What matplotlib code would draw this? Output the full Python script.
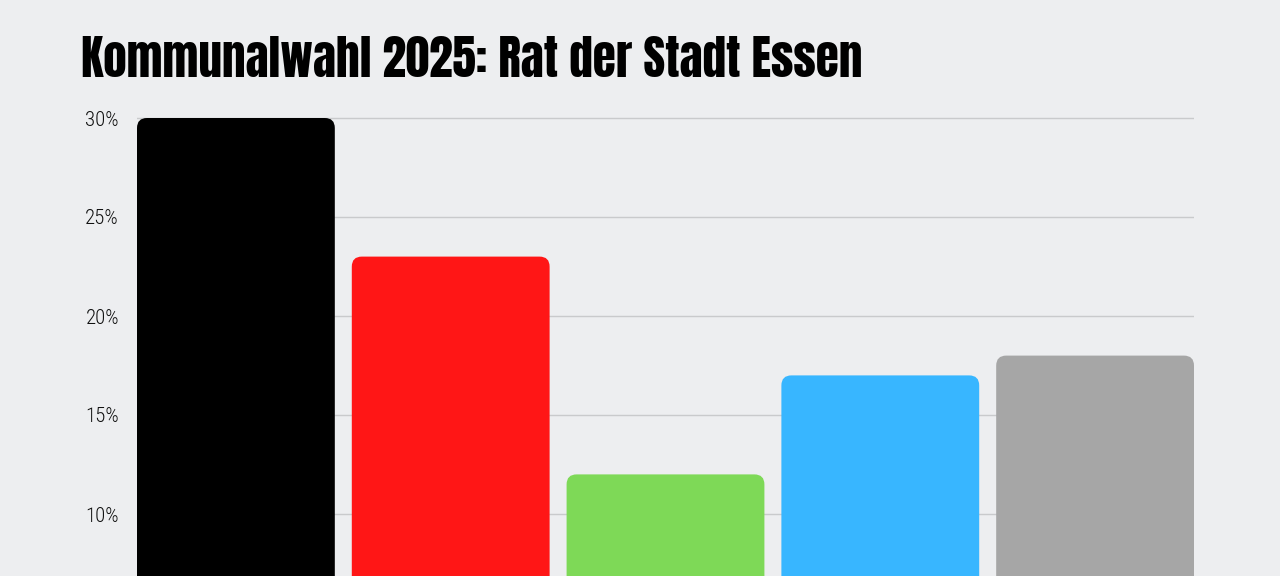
import matplotlib
matplotlib.use("Agg")
import matplotlib.pyplot as plt
from matplotlib.patches import FancyBboxPatch
from matplotlib.ticker import FuncFormatter

parteien = ["CDU", "SPD", "Grüne", "AfD", "Sonstige"]
anteile = [30, 23, 12, 17, 18]
farben = ["#000000", "#FF1616", "#7ED957", "#38B6FF", "#A6A6A6"]
y_ticks = [10, 15, 20, 25, 30]

bg = "#EDEEF0"
W, H = 1280, 576

fig = plt.figure(figsize=(W / 100, H / 100), dpi=100, facecolor=bg)

# axes placed in pixel terms; the lower part of the chart is cut off by the figure edge
left, right, top = 137, 1194, 110
px_per_pct = 19.8
ax = fig.add_axes([left / W, 0, (right - left) / W, (H - top) / H])
ax.set_facecolor(bg)

breite = 198 / 215
x = list(range(len(parteien)))
ax.set_xlim(-breite / 2, len(parteien) - 1 + breite / 2)
y_unten = 30 - (H - 118) / px_per_pct
y_oben = 30 + (118 - top) / px_per_pct
ax.set_ylim(y_unten, y_oben)

ax.set_yticks(y_ticks)
ax.yaxis.set_major_formatter(FuncFormatter(lambda v, p: f"{v:.0f}%"))
ax.grid(axis="y", color="#C9CACC", linewidth=1)
ax.set_axisbelow(True)
ax.set_xticks([])
for s in ax.spines.values():
    s.set_visible(False)
ax.tick_params(axis="y", length=0, pad=13, labelsize=15, labelcolor="#111111")
for lab in ax.get_yticklabels():
    lab.set_family(["Roboto Condensed", "Barlow Condensed", "DejaVu Sans"])
    lab.set_fontweight("light")

# rounded bars: draw with ax.bar, then swap each rect for a rounded patch
x_px = (right - left) / (len(parteien) - 1 + breite)
aspect = x_px / px_per_pct
radius = 10 / x_px
bars = ax.bar(x, anteile, width=breite, color=farben)
for b in bars:
    bx, by = b.get_x(), b.get_y()
    bw, bh = b.get_width(), b.get_height()
    b.remove()
    ax.add_patch(FancyBboxPatch((bx, by), bw, bh,
                                boxstyle=f"round,pad=0,rounding_size={radius}",
                                mutation_aspect=aspect,
                                facecolor=b.get_facecolor(), linewidth=0))

fig.text(81 / W, 1 - 77 / H, "Kommunalwahl 2025: Rat der Stadt Essen",
         fontsize=34, color="#000000",
         family=["Anton", "DejaVu Sans"], ha="left", va="baseline")

fig.savefig("out.png", dpi=100, facecolor=bg)
